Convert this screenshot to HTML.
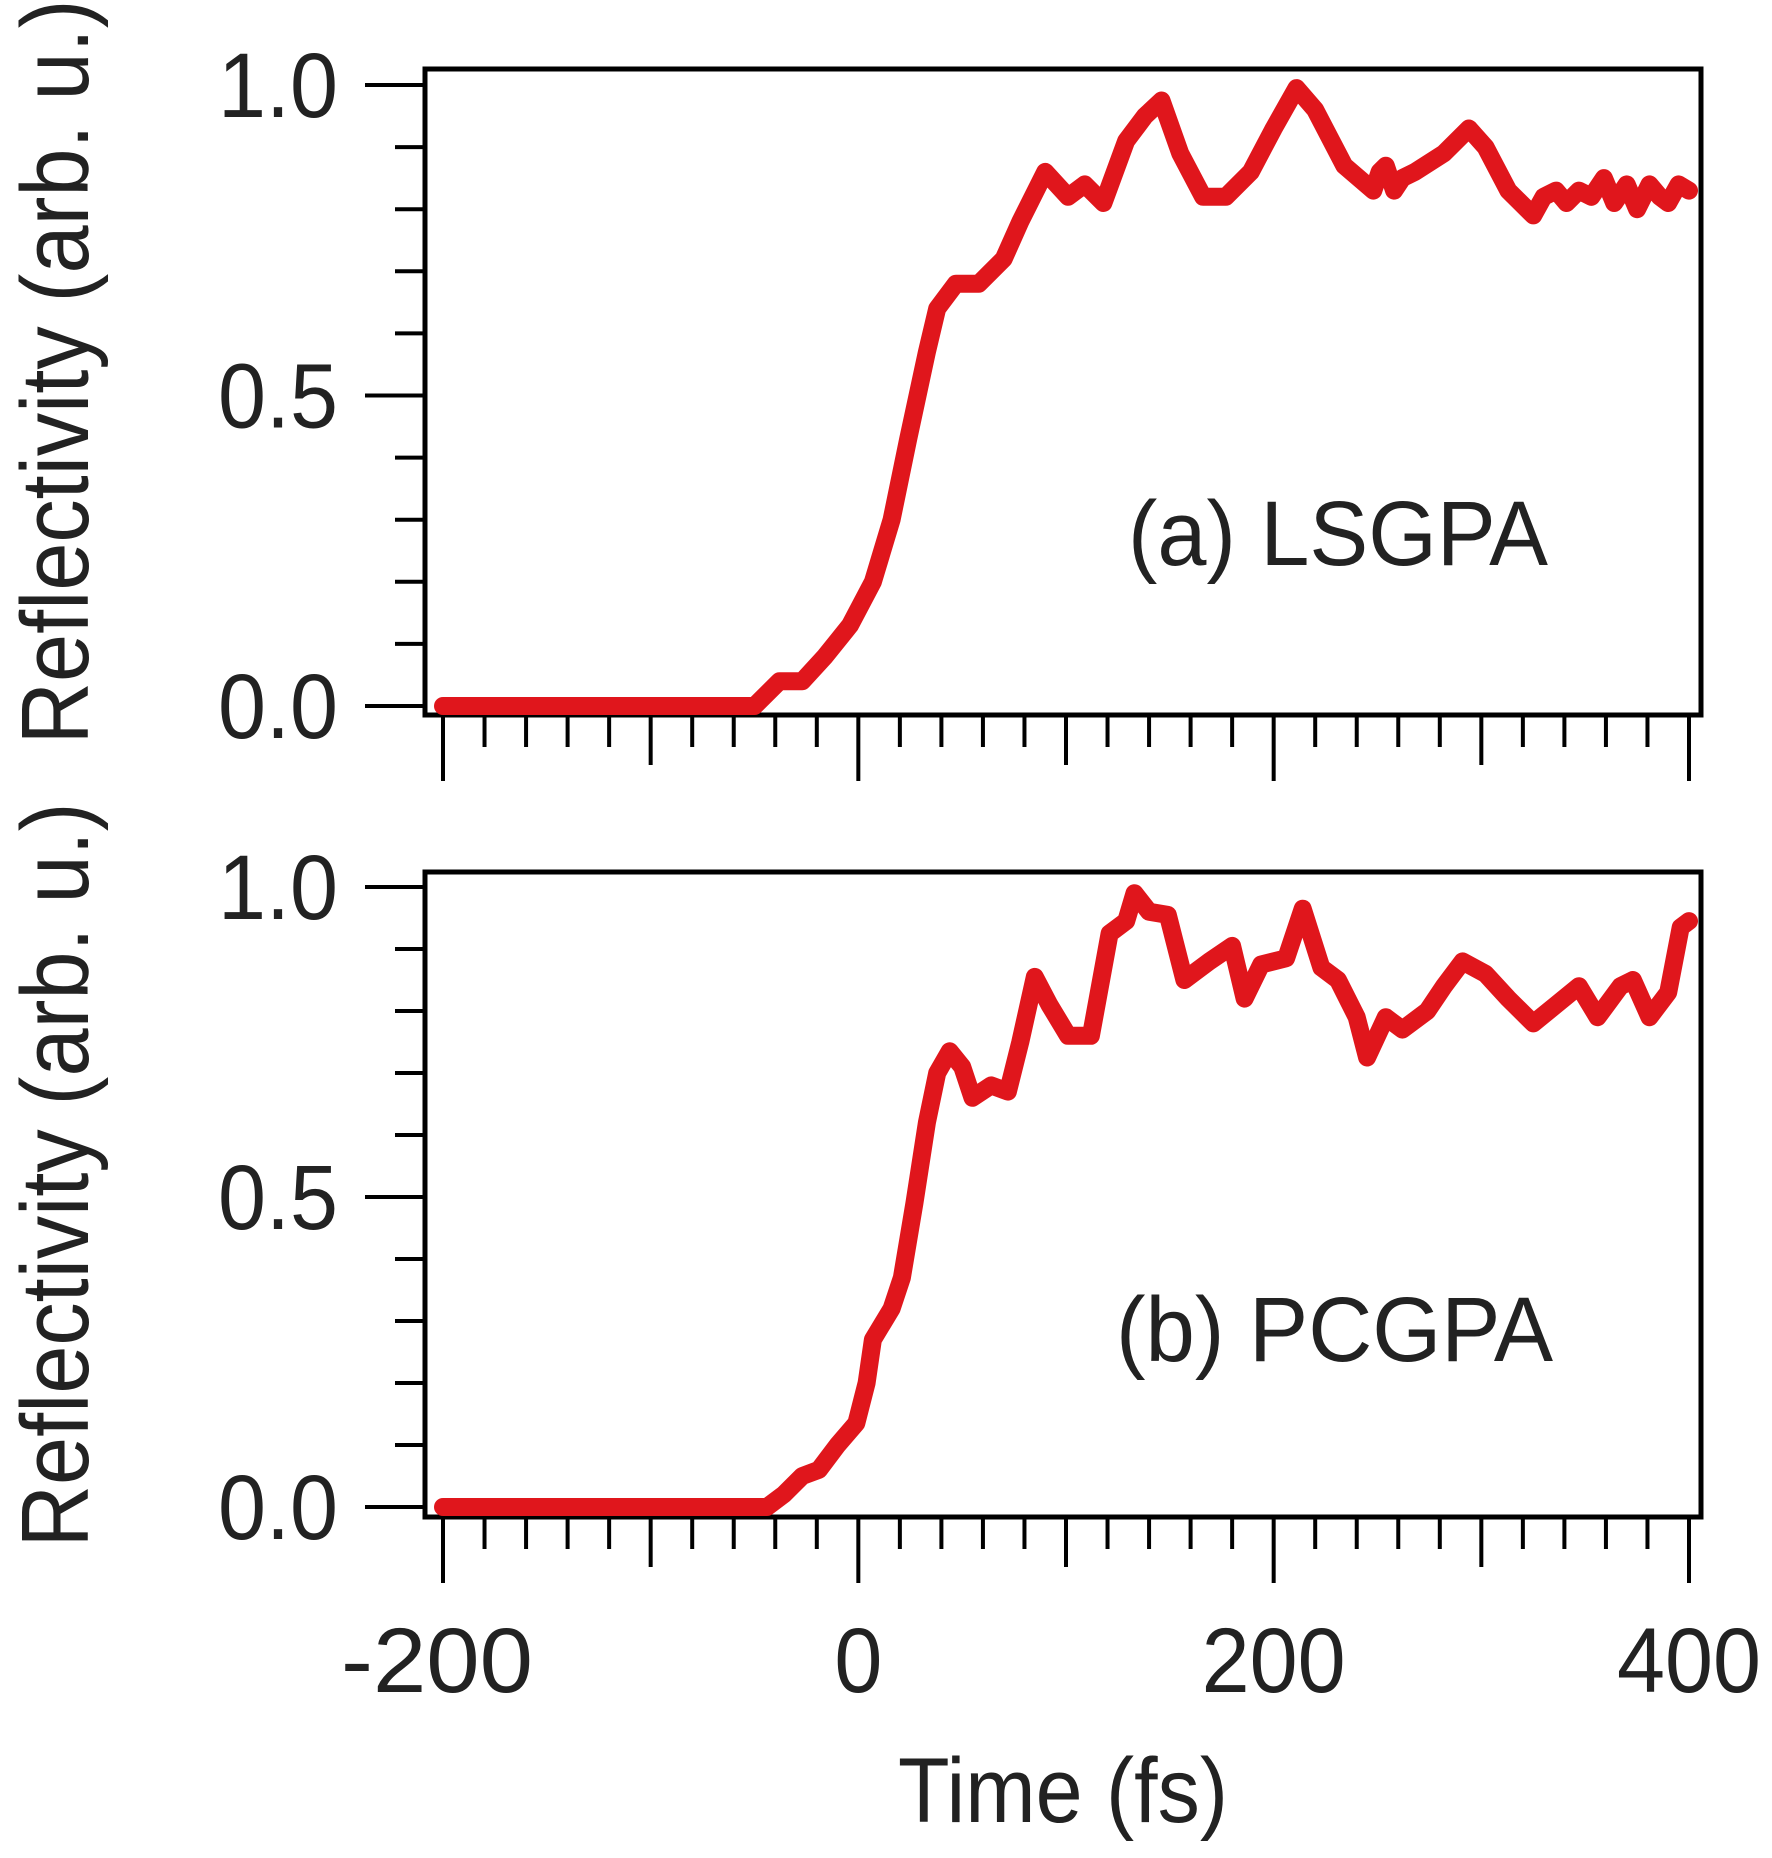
<!DOCTYPE html>
<html><head><meta charset="utf-8"><style>
html,body{margin:0;padding:0;background:#fff;}
svg{display:block;}
text{font-family:"Liberation Sans",sans-serif;fill:#222;}
</style></head><body>
<svg id="chart" width="1772" height="1858" viewBox="0 0 1772 1858" xmlns="http://www.w3.org/2000/svg"></svg>
<script>
const xTickLabels = ["-200","0","200","400"];
const xTickValues = [-200,0,200,400];
const yTickLabels = ["0.0","0.5","1.0"];
const yTickValues = [0,0.5,1];
const timeA = [-200,-50,-38,-27,-16,-4,7,16,24,33,38,47,58,70,78,90,101,109,118,129,138,146,155,166,177,189,200,211,220,234,248,251,254,258,262,268,282,294,302,313,325,330,336,341,347,353,359,364,370,375,381,386,390,395,400];
const valuesA = [0,0,0.04,0.04,0.08,0.13,0.2,0.3,0.43,0.57,0.64,0.68,0.68,0.72,0.78,0.86,0.82,0.84,0.81,0.91,0.95,0.975,0.89,0.82,0.82,0.86,0.93,0.995,0.96,0.87,0.83,0.86,0.87,0.83,0.85,0.86,0.89,0.93,0.9,0.83,0.79,0.82,0.83,0.81,0.83,0.82,0.85,0.81,0.84,0.8,0.84,0.82,0.81,0.84,0.83];
const timeB = [-200,-44,-36,-27,-19,-10,-1,4,7,16,21,27,33,38,44,50,55,64,72,78,85,92,101,112,121,129,133,140,149,157,169,180,186,194,206,214,223,231,240,245,254,262,274,282,291,302,313,325,336,347,356,367,373,381,390,396,400];
const valuesB = [0,0,0.02,0.05,0.06,0.1,0.135,0.2,0.27,0.32,0.37,0.49,0.62,0.7,0.735,0.71,0.66,0.68,0.67,0.75,0.855,0.81,0.76,0.76,0.925,0.945,0.99,0.96,0.955,0.85,0.88,0.905,0.82,0.875,0.885,0.965,0.87,0.85,0.79,0.725,0.79,0.77,0.8,0.84,0.88,0.86,0.82,0.78,0.81,0.84,0.79,0.84,0.85,0.79,0.83,0.935,0.945];

const NS="http://www.w3.org/2000/svg";
const svg=document.getElementById('chart');
function mk(tag,attrs,parent){const e=document.createElementNS(NS,tag);for(const k in attrs)e.setAttribute(k,attrs[k]);(parent||svg).appendChild(e);return e;}
const xScale=t=>443+(t+200)*(1689-443)/600;

function panel(cfg){
  const g=mk('g',{});
  
  
  const yScale=v=>cfg.y0+(cfg.y1-cfg.y0)*v;
  const fr=mk('rect',{x:425,y:cfg.top,width:1276,height:cfg.bottom-cfg.top,fill:'none',stroke:'#000','stroke-width':5},g);
  
  
  for(let i=0;i<=10;i++){
    const v=i/10;const y=yScale(v);
    const major=(i%5===0);
    const tk=mk('line',{x1:major?365:395,x2:425,y1:y,y2:y,stroke:'#000','stroke-width':4},g);
    
    
  }
  yTickValues.forEach((v,i)=>{
    const t=mk('text',{x:338,y:yScale(v)+32,'text-anchor':'end','font-size':92,textLength:120,lengthAdjust:'spacingAndGlyphs'},g);
    t.textContent=yTickLabels[i];
    
    
  });
  for(let tv=-200;tv<=400;tv+=20){
    const x=xScale(tv);
    const len=(tv%200===0)?66:(tv%100===0?50:32);
    const tk=mk('line',{x1:x,x2:x,y1:cfg.bottom,y2:cfg.bottom+len,stroke:'#000','stroke-width':4},g);
    
    
  }
  const pts=cfg.t.map((tv,i)=>xScale(tv).toFixed(1)+','+yScale(cfg.v[i]).toFixed(1)).join(' ');
  const base=mk('line',{x1:xScale(-200),x2:xScale(-60),y1:yScale(0),y2:yScale(0),stroke:'#b01c1c','stroke-width':18},g);
  
  
  const pl=mk('polyline',{points:pts,fill:'none',stroke:'#e0161c','stroke-width':18,'stroke-linejoin':'round','stroke-linecap':'round'},g);
  
  
  const an=mk('text',{x:cfg.annX,y:cfg.annY,'font-size':92,textLength:cfg.annW,lengthAdjust:'spacingAndGlyphs'},g);
  an.textContent=cfg.label;
  
  
  const yt=mk('text',{x:0,y:0,'font-size':96,'text-anchor':'middle',textLength:cfg.titleLen,lengthAdjust:'spacingAndGlyphs',transform:`translate(88,${cfg.titleY}) rotate(-90)`},g);
  yt.textContent='Reflectivity (arb. u.)';
  
  
}
panel({name:'panel-a-lsgpa',top:69,bottom:715,y0:706,y1:85,t:timeA,v:valuesA,label:'(a) LSGPA',annX:1128,annY:565,annW:420,titleY:372,titleLen:745});
panel({name:'panel-b-pcgpa',top:872,bottom:1517,y0:1507,y1:887,t:timeB,v:valuesB,label:'(b) PCGPA',annX:1116,annY:1361,annW:437,titleY:1175,titleLen:745});

xTickValues.forEach((v,i)=>{
  const t=mk('text',{x:xScale(v)+(v===-200?-6:0),y:1692,'text-anchor':'middle','font-size':92,textLength:xTickLabels[i].length*48,lengthAdjust:'spacingAndGlyphs'});
  t.textContent=xTickLabels[i];
  
  
});
const xt=mk('text',{x:1063,y:1822,'text-anchor':'middle','font-size':92,textLength:330,lengthAdjust:'spacingAndGlyphs'});
xt.textContent='Time (fs)';


</script>
</body></html>
